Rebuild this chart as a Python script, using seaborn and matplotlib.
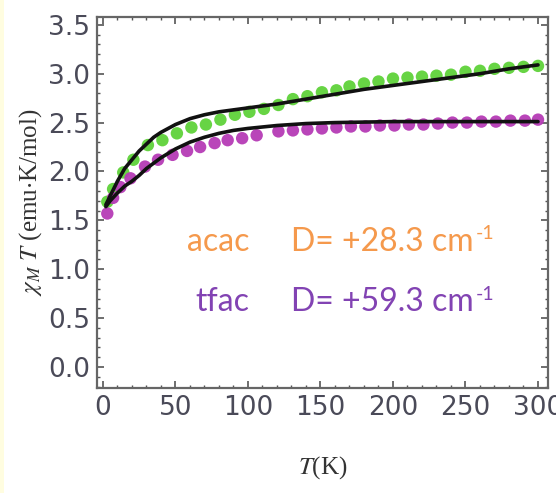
import matplotlib
matplotlib.use("Agg")
import matplotlib.pyplot as plt
import matplotlib.patches as mpatches
from matplotlib.ticker import MultipleLocator
import seaborn as sns
import pandas as pd

# measured chi_M*T for the acac complex
acac_T = [3, 7, 14, 21, 31, 41, 51, 61, 71, 81, 91, 101, 111, 121, 131, 141,
          151, 161, 170, 180, 190, 200, 210, 220, 230, 240, 250, 260, 270, 280,
          290, 300]
acac_chiT = [1.69, 1.82, 1.99, 2.12, 2.27, 2.32, 2.39, 2.45, 2.48, 2.53, 2.58,
             2.61, 2.64, 2.68, 2.74, 2.77, 2.81, 2.83, 2.87, 2.90, 2.92, 2.95,
             2.96, 2.97, 2.98, 2.99, 3.02, 3.03, 3.05, 3.06, 3.07, 3.08]

# measured chi_M*T for the tfac complex
tfac_T = [3, 7, 12, 19, 29, 38, 48, 58, 67, 77, 86, 96, 106, 121, 131, 141,
          151, 161, 171, 181, 191, 201, 211, 221, 231, 241, 251, 261, 271, 281,
          291, 300]
tfac_chiT = [1.57, 1.73, 1.84, 1.93, 2.05, 2.12, 2.17, 2.21, 2.25, 2.29, 2.32,
             2.34, 2.37, 2.41, 2.42, 2.43, 2.44, 2.45, 2.46, 2.46, 2.47, 2.47,
             2.48, 2.48, 2.49, 2.50, 2.50, 2.51, 2.51, 2.52, 2.52, 2.53]

# fitted curves
fit_acac_T = [2, 5, 10, 15, 20, 25, 30, 35, 40, 50, 60, 70, 80, 90, 100, 120,
              140, 160, 180, 200, 220, 240, 260, 280, 300]
fit_acac_chiT = [1.66, 1.75, 1.90, 2.03, 2.12, 2.21, 2.28, 2.35, 2.40, 2.48,
                 2.54, 2.58, 2.61, 2.63, 2.65, 2.69, 2.74, 2.79, 2.84, 2.88,
                 2.92, 2.96, 3.00, 3.05, 3.09]
fit_tfac_T = [2, 5, 10, 15, 20, 25, 30, 40, 50, 60, 70, 80, 90, 100, 120, 140,
              160, 200, 250, 300]
fit_tfac_chiT = [1.64, 1.70, 1.78, 1.85, 1.90, 1.96, 2.03, 2.14, 2.23, 2.30,
                 2.35, 2.39, 2.42, 2.44, 2.47, 2.49, 2.50, 2.51, 2.51, 2.51]

x_ticks = [0, 50, 100, 150, 200, 250, 300]
y_ticks = [0.0, 0.5, 1.0, 1.5, 2.0, 2.5, 3.0, 3.5]

labels = ["acac", "tfac"]
d_values = [28.3, 59.3]

sns.set_theme(style="ticks")
plt.rcParams["mathtext.fontset"] = "stix"

W, H = 556, 493
fig = plt.figure(figsize=(W / 100, H / 100), dpi=100)
fig.patch.set_facecolor("white")
# thin pale-yellow strip along the left edge
fig.patches.append(mpatches.Rectangle((0, 0), 4 / W, 1, transform=fig.transFigure,
                                      facecolor="#fffde0", edgecolor="none", zorder=0))

ax = fig.add_axes([97 / W, 1 - 388 / H, (548 - 97) / W, (388 - 17) / H])

data = pd.concat([
    pd.DataFrame({"T": acac_T, "chiT": acac_chiT, "ligand": "acac"}),
    pd.DataFrame({"T": tfac_T, "chiT": tfac_chiT, "ligand": "tfac"}),
])
fits = pd.concat([
    pd.DataFrame({"T": fit_acac_T, "chiT": fit_acac_chiT, "ligand": "acac"}),
    pd.DataFrame({"T": fit_tfac_T, "chiT": fit_tfac_chiT, "ligand": "tfac"}),
])

sns.scatterplot(data=data, x="T", y="chiT", hue="ligand",
                palette={"acac": "#5fd23a", "tfac": "#b63bb6"},
                s=80, edgecolor="none", alpha=0.95, legend=False, ax=ax, zorder=2)
sns.lineplot(data=fits, x="T", y="chiT", units="ligand", estimator=None,
             color="#111111", linewidth=2.6, legend=False, ax=ax, zorder=3)

ax.set_xlim(-4.1, 306.9)
ax.set_ylim(-0.215, 3.58)
ax.set_xticks(x_ticks)
ax.set_yticks(y_ticks)
ax.set_yticklabels([f"{v:.1f}" for v in y_ticks])
ax.xaxis.set_minor_locator(MultipleLocator(10))
ax.yaxis.set_minor_locator(MultipleLocator(0.1))

tick_font = ["Liberation Sans Narrow", "DejaVu Sans"]
for lab in ax.get_xticklabels() + ax.get_yticklabels():
    lab.set_family(tick_font)
    lab.set_fontsize(19)
    lab.set_color("#4a4a58")

ax.tick_params(which="both", direction="in", top=True, right=True,
               color="#555555")
ax.tick_params(which="major", length=5, width=1.2, pad=5)
ax.tick_params(which="minor", length=2.5, width=1.0)
for sp in ax.spines.values():
    sp.set_color("#666666")
    sp.set_linewidth(1.6)

ax.set_xlabel("$T$(K)", fontsize=18, color="#333333",
              family="Liberation Serif", labelpad=24)
ax.set_ylabel(r"$\chi_M\ T$ (emu$\cdot$K/mol)", fontsize=18, color="#333333",
              family="Liberation Serif", labelpad=3)

colors = ["#f5994c", "#8243b3"]
text_font = ["Lato", "DejaVu Sans"]
text_y = [1.28, 0.66]
name_x, d_x = 101, 130
for lab, d, c, ty in zip(labels, d_values, colors, text_y):
    ax.text(name_x, ty, lab, ha="right", va="center", fontsize=23,
            color=c, family=text_font)
    main = ax.text(d_x, ty, f"D= +{d} cm", ha="left", va="center",
                   fontsize=23, color=c, family=text_font)
    ax.annotate("-1", xy=(1.0, 0.78), xycoords=main, xytext=(1, 0),
                textcoords="offset points", ha="left", va="center",
                fontsize=14, color=c, family=text_font)

fig.savefig("out.png", dpi=100)
